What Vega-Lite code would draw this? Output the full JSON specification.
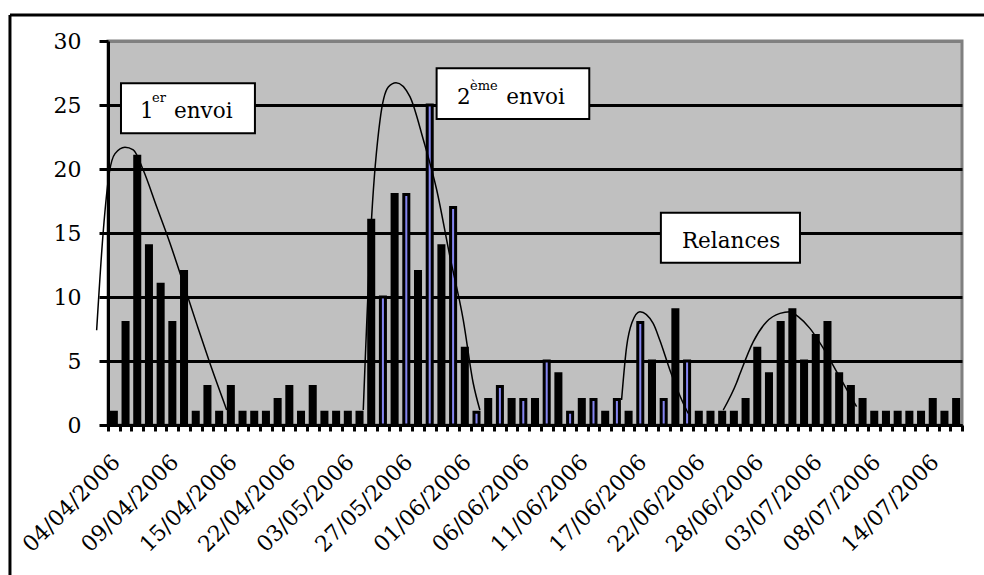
{
  "$schema": "https://vega.github.io/schema/vega-lite/v6.json",
  "width": 854,
  "height": 384,
  "autosize": "none",
  "padding": {"left": 108, "top": 41, "right": 22, "bottom": 150},
  "background": "white",
  "config": {
    "font": "DejaVu Serif",
    "view": {"fill": "#c0c0c0", "stroke": "#808080", "strokeWidth": 3}
  },
  "datasets": {
    "bars": [
      {"date": "04/04/2006", "n": 1, "serie": "a"},
      {"date": "05/04/2006", "n": 8, "serie": "a"},
      {"date": "06/04/2006", "n": 21, "serie": "a"},
      {"date": "07/04/2006", "n": 14, "serie": "a"},
      {"date": "08/04/2006", "n": 11, "serie": "a"},
      {"date": "09/04/2006", "n": 8, "serie": "a"},
      {"date": "10/04/2006", "n": 12, "serie": "a"},
      {"date": "11/04/2006", "n": 1, "serie": "a"},
      {"date": "12/04/2006", "n": 3, "serie": "a"},
      {"date": "13/04/2006", "n": 1, "serie": "a"},
      {"date": "15/04/2006", "n": 3, "serie": "a"},
      {"date": "17/04/2006", "n": 1, "serie": "a"},
      {"date": "18/04/2006", "n": 1, "serie": "a"},
      {"date": "19/04/2006", "n": 1, "serie": "a"},
      {"date": "20/04/2006", "n": 2, "serie": "a"},
      {"date": "22/04/2006", "n": 3, "serie": "a"},
      {"date": "24/04/2006", "n": 1, "serie": "a"},
      {"date": "25/04/2006", "n": 3, "serie": "a"},
      {"date": "26/04/2006", "n": 1, "serie": "a"},
      {"date": "28/04/2006", "n": 1, "serie": "a"},
      {"date": "03/05/2006", "n": 1, "serie": "a"},
      {"date": "15/05/2006", "n": 1, "serie": "a"},
      {"date": "23/05/2006", "n": 16, "serie": "a"},
      {"date": "24/05/2006", "n": 10, "serie": "b"},
      {"date": "26/05/2006", "n": 18, "serie": "a"},
      {"date": "27/05/2006", "n": 18, "serie": "b"},
      {"date": "28/05/2006", "n": 12, "serie": "a"},
      {"date": "29/05/2006", "n": 25, "serie": "b"},
      {"date": "30/05/2006", "n": 14, "serie": "a"},
      {"date": "31/05/2006", "n": 17, "serie": "b"},
      {"date": "01/06/2006", "n": 6, "serie": "a"},
      {"date": "02/06/2006", "n": 1, "serie": "b"},
      {"date": "03/06/2006", "n": 2, "serie": "a"},
      {"date": "04/06/2006", "n": 3, "serie": "b"},
      {"date": "05/06/2006", "n": 2, "serie": "a"},
      {"date": "06/06/2006", "n": 2, "serie": "b"},
      {"date": "07/06/2006", "n": 2, "serie": "a"},
      {"date": "08/06/2006", "n": 5, "serie": "b"},
      {"date": "09/06/2006", "n": 4, "serie": "a"},
      {"date": "10/06/2006", "n": 1, "serie": "b"},
      {"date": "11/06/2006", "n": 2, "serie": "a"},
      {"date": "12/06/2006", "n": 2, "serie": "b"},
      {"date": "13/06/2006", "n": 1, "serie": "a"},
      {"date": "14/06/2006", "n": 2, "serie": "b"},
      {"date": "15/06/2006", "n": 1, "serie": "a"},
      {"date": "17/06/2006", "n": 8, "serie": "b"},
      {"date": "18/06/2006", "n": 5, "serie": "a"},
      {"date": "19/06/2006", "n": 2, "serie": "b"},
      {"date": "20/06/2006", "n": 9, "serie": "a"},
      {"date": "21/06/2006", "n": 5, "serie": "b"},
      {"date": "22/06/2006", "n": 1, "serie": "a"},
      {"date": "23/06/2006", "n": 1, "serie": "a"},
      {"date": "24/06/2006", "n": 1, "serie": "a"},
      {"date": "26/06/2006", "n": 1, "serie": "a"},
      {"date": "27/06/2006", "n": 2, "serie": "a"},
      {"date": "28/06/2006", "n": 6, "serie": "a"},
      {"date": "29/06/2006", "n": 4, "serie": "a"},
      {"date": "30/06/2006", "n": 8, "serie": "a"},
      {"date": "01/07/2006", "n": 9, "serie": "a"},
      {"date": "02/07/2006", "n": 5, "serie": "a"},
      {"date": "03/07/2006", "n": 7, "serie": "a"},
      {"date": "04/07/2006", "n": 8, "serie": "a"},
      {"date": "05/07/2006", "n": 4, "serie": "a"},
      {"date": "06/07/2006", "n": 3, "serie": "a"},
      {"date": "07/07/2006", "n": 2, "serie": "a"},
      {"date": "08/07/2006", "n": 1, "serie": "a"},
      {"date": "09/07/2006", "n": 1, "serie": "a"},
      {"date": "10/07/2006", "n": 1, "serie": "a"},
      {"date": "11/07/2006", "n": 1, "serie": "a"},
      {"date": "12/07/2006", "n": 1, "serie": "a"},
      {"date": "14/07/2006", "n": 2, "serie": "a"},
      {"date": "15/07/2006", "n": 1, "serie": "a"},
      {"date": "17/07/2006", "n": 2, "serie": "a"}
    ],
    "curves": [
      {"c": 1, "cx": -0.97, "cy": 7.4},
      {"c": 1, "cx": -0.4, "cy": 15.2},
      {"c": 1, "cx": 0.11, "cy": 19.7},
      {"c": 1, "cx": 0.6, "cy": 21.2},
      {"c": 1, "cx": 1.45, "cy": 21.7},
      {"c": 1, "cx": 2.16, "cy": 21.5},
      {"c": 1, "cx": 3.02, "cy": 19.9},
      {"c": 1, "cx": 4.16, "cy": 17.05},
      {"c": 1, "cx": 5.3, "cy": 14.2},
      {"c": 1, "cx": 6.44, "cy": 11.07},
      {"c": 1, "cx": 7.58, "cy": 7.9},
      {"c": 1, "cx": 8.72, "cy": 4.8},
      {"c": 1, "cx": 10.15, "cy": 1.17},
      {"c": 2, "cx": 21.82, "cy": 1.17},
      {"c": 2, "cx": 22.54, "cy": 16.3},
      {"c": 2, "cx": 23.25, "cy": 23.8},
      {"c": 2, "cx": 23.96, "cy": 26.4},
      {"c": 2, "cx": 24.62, "cy": 26.74},
      {"c": 2, "cx": 25.81, "cy": 25.65},
      {"c": 2, "cx": 26.95, "cy": 22.3},
      {"c": 2, "cx": 28.09, "cy": 18.4},
      {"c": 2, "cx": 29.23, "cy": 13.15},
      {"c": 2, "cx": 30.37, "cy": 8.2},
      {"c": 2, "cx": 31.22, "cy": 3.26},
      {"c": 2, "cx": 31.79, "cy": 1.17},
      {"c": 3, "cx": 43.9, "cy": 1.95},
      {"c": 3, "cx": 44.33, "cy": 6.1},
      {"c": 3, "cx": 44.79, "cy": 8.0},
      {"c": 3, "cx": 45.47, "cy": 8.85},
      {"c": 3, "cx": 46.6, "cy": 7.94},
      {"c": 3, "cx": 47.18, "cy": 6.6},
      {"c": 3, "cx": 48.03, "cy": 4.3},
      {"c": 3, "cx": 49.17, "cy": 1.7},
      {"c": 3, "cx": 49.6, "cy": 0.9},
      {"c": 4, "cx": 52.59, "cy": 1.17},
      {"c": 4, "cx": 53.73, "cy": 3.3},
      {"c": 4, "cx": 54.02, "cy": 4.0},
      {"c": 4, "cx": 55.15, "cy": 6.5},
      {"c": 4, "cx": 56.3, "cy": 8.07},
      {"c": 4, "cx": 57.44, "cy": 8.72},
      {"c": 4, "cx": 58.29, "cy": 8.85},
      {"c": 4, "cx": 59.0, "cy": 8.46},
      {"c": 4, "cx": 60.0, "cy": 7.55},
      {"c": 4, "cx": 61.14, "cy": 6.0},
      {"c": 4, "cx": 62.28, "cy": 4.17},
      {"c": 4, "cx": 63.42, "cy": 2.34},
      {"c": 4, "cx": 63.99, "cy": 1.43}
    ],
    "boxes": [
      {"x1": 1.11, "x2": 12.56, "y1": 22.8, "y2": 26.7},
      {"x1": 28.09, "x2": 41.14, "y1": 23.9, "y2": 27.87},
      {"x1": 47.26, "x2": 59.15, "y1": 12.68, "y2": 16.59}
    ],
    "labels": [
      {"tx": 2.74, "ty": 23.96, "t": "1", "k": "main"},
      {"tx": 3.76, "ty": 25.2, "t": "er", "k": "sup"},
      {"tx": 5.64, "ty": 23.96, "t": "envoi", "k": "main"},
      {"tx": 29.83, "ty": 25.08, "t": "2", "k": "main"},
      {"tx": 30.94, "ty": 26.2, "t": "ème", "k": "sup"},
      {"tx": 34.05, "ty": 25.08, "t": "envoi", "k": "main"},
      {"tx": 49.06, "ty": 13.8, "t": "Relances", "k": "main"}
    ],
    "one": [{}]
  },
  "resolve": {"scale": {"x": "independent"}},
  "layer": [
    {
      "data": {"name": "bars"},
      "mark": {"type": "bar", "width": {"band": 0.43}, "stroke": "black", "strokeWidth": 3, "strokeJoin": "miter"},
      "encoding": {
        "x": {
          "field": "date", "type": "ordinal", "sort": null,
          "scale": {"paddingInner": 0, "paddingOuter": 0},
          "axis": {
            "title": null,
            "labelAngle": -45,
            "labelFont": "DejaVu Serif",
            "labelFontSize": 22,
            "labelColor": "black",
            "labelPadding": 20,
            "labelOffset": -5,
            "labelOverlap": false,
            "labelExpr": "round(datum.index * 72) % 5 === 0 ? datum.label : ''",
            "domainColor": "black",
            "domainWidth": 3,
            "tickColor": "black",
            "tickWidth": 3,
            "tickSize": 6,
            "tickBand": "extent"
          }
        },
        "y": {
          "field": "n", "type": "quantitative",
          "scale": {"domain": [0, 30], "nice": false},
          "axis": {
            "title": null,
            "values": [0, 5, 10, 15, 20, 25, 30],
            "labelFont": "DejaVu Serif",
            "labelFontSize": 22,
            "labelColor": "black",
            "labelPadding": 18,
            "domainColor": "black",
            "domainWidth": 3,
            "tickColor": "black",
            "tickWidth": 3,
            "tickSize": 9,
            "grid": true,
            "gridWidth": 3,
            "gridOpacity": 1,
            "gridColor": {"condition": {"test": "datum.value === 30", "value": "#808080"}, "value": "black"}
          }
        },
        "fill": {
          "field": "serie", "type": "nominal",
          "scale": {"domain": ["a", "b"], "range": ["black", "#8585f0"]},
          "legend": null
        }
      }
    },
    {
      "layer": [
        {
          "data": {"name": "curves"},
          "mark": {"type": "line", "interpolate": "monotone", "color": "black", "strokeWidth": 1.5},
          "encoding": {
            "x": {"field": "cx", "type": "quantitative", "scale": {"domain": [0, 73], "nice": false, "zero": false}, "axis": null},
            "y": {"field": "cy", "type": "quantitative", "scale": {"domain": [0, 30], "nice": false}},
            "detail": {"field": "c", "type": "nominal"}
          }
        },
        {
          "data": {"name": "boxes"},
          "mark": {"type": "rect", "fill": "white", "stroke": "black", "strokeWidth": 2},
          "encoding": {
            "x": {"field": "x1", "type": "quantitative", "scale": {"domain": [0, 73], "nice": false, "zero": false}, "axis": null},
            "x2": {"field": "x2"},
            "y": {"field": "y1", "type": "quantitative", "scale": {"domain": [0, 30], "nice": false}},
            "y2": {"field": "y2"}
          }
        },
        {
          "data": {"name": "labels"},
          "transform": [{"filter": "datum.k === 'main'"}],
          "mark": {"type": "text", "align": "left", "baseline": "alphabetic", "font": "DejaVu Serif", "fontSize": 21.5, "color": "black"},
          "encoding": {
            "x": {"field": "tx", "type": "quantitative", "scale": {"domain": [0, 73], "nice": false, "zero": false}, "axis": null},
            "y": {"field": "ty", "type": "quantitative", "scale": {"domain": [0, 30], "nice": false}},
            "text": {"field": "t"}
          }
        },
        {
          "data": {"name": "labels"},
          "transform": [{"filter": "datum.k === 'sup'"}],
          "mark": {"type": "text", "align": "left", "baseline": "alphabetic", "font": "DejaVu Serif", "fontSize": 13, "color": "black"},
          "encoding": {
            "x": {"field": "tx", "type": "quantitative", "scale": {"domain": [0, 73], "nice": false, "zero": false}, "axis": null},
            "y": {"field": "ty", "type": "quantitative", "scale": {"domain": [0, 30], "nice": false}},
            "text": {"field": "t"}
          }
        },
        {
          "data": {"name": "one"},
          "mark": {"type": "rule", "color": "black", "strokeWidth": 3},
          "encoding": {
            "x": {"datum": -8.38, "type": "quantitative", "scale": {"domain": [0, 73], "nice": false, "zero": false}},
            "x2": {"datum": 80},
            "y": {"datum": 32.03, "type": "quantitative", "scale": {"domain": [0, 30], "nice": false}}
          }
        },
        {
          "data": {"name": "one"},
          "mark": {"type": "rule", "color": "black", "strokeWidth": 3},
          "encoding": {
            "x": {"datum": -8.38, "type": "quantitative", "scale": {"domain": [0, 73], "nice": false, "zero": false}},
            "y": {"datum": 32.03, "type": "quantitative", "scale": {"domain": [0, 30], "nice": false}},
            "y2": {"datum": -15}
          }
        }
      ]
    }
  ]
}
